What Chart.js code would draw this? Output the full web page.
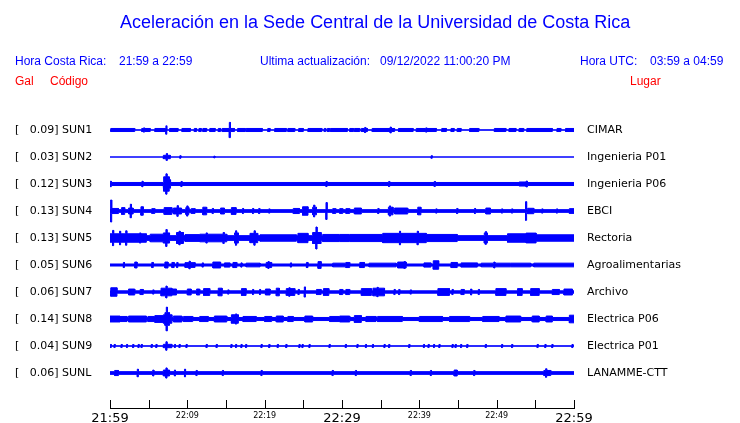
<!DOCTYPE html>
<html>
<head>
<meta charset="utf-8">
<script src="https://cdn.jsdelivr.net/npm/chart.js@4.4.1/dist/chart.umd.min.js"></script>
<style>
  body { margin: 0; background: #fff; }
  #wrap { position: relative; width: 740px; height: 423px; font-family: 'Liberation Sans', Arial, sans-serif; }
  #wrap canvas { position: absolute; left: 0; top: 0; }
  .t { position: absolute; white-space: pre; font-size: 12px; line-height: 14px; color: #0000ff; }
  .r { color: #ff0000; }
  #title { position: absolute; left: 120px; top: 12px; font-size: 18px; line-height: 20px; color: #0000ff; white-space: pre; }
</style>
</head>
<body>
<div id="wrap">
  <canvas id="sismo" width="740" height="423"></canvas>
  <div id="title">Aceleración en la Sede Central de la Universidad de Costa Rica</div>
  <div class="t" style="left:15px;top:54px">Hora Costa Rica:</div>
  <div class="t" style="left:119px;top:54px">21:59 a 22:59</div>
  <div class="t" style="left:260px;top:54px">Ultima actualización:</div>
  <div class="t" style="left:380px;top:54px">09/12/2022 11:00:20 PM</div>
  <div class="t" style="left:580px;top:54px">Hora UTC:</div>
  <div class="t" style="left:650px;top:54px">03:59 a 04:59</div>
  <div class="t r" style="left:15px;top:74px">Gal</div>
  <div class="t r" style="left:50px;top:74px">Código</div>
  <div class="t r" style="left:630px;top:74px">Lugar</div>
</div>
<script>
// estaciones y valores maximos (gal)
const codes = ['SUN1', 'SUN2', 'SUN3', 'SUN4', 'SUN5', 'SUN6', 'SUN7', 'SUN8', 'SUN9', 'SUNL'];
const places = ['CIMAR', 'Ingenieria P01', 'Ingenieria P06', 'EBCI', 'Rectoria', 'Agroalimentarias', 'Archivo', 'Electrica P06', 'Electrica P01', 'LANAMME-CTT'];
const peaks = [0.09, 0.03, 0.12, 0.13, 0.13, 0.05, 0.06, 0.14, 0.04, 0.06];
const timeLabels = ['21:59', '22:09', '22:19', '22:29', '22:39', '22:49', '22:59'];

// amplitud de fondo de cada traza (gal)
const baseAmp = [0.002, 0.0, 0.018, 0.016, 0.028, 0.012, 0.014, 0.018, 0.002, 0.016];

// rafagas: [inicio, fin, amplitud] o picos [minuto, amplitud]  (minutos desde 21:59)
const sun1 = [[0.1,3.2,0.018],[4.1,5.2,0.018],[5.8,7.3,0.018],[7.7,8.8,0.018],[9.3,10.4,0.018],[10.9,11.2,0.018],
  [11.5,11.8,0.018],[12.0,12.5,0.018],[12.9,13.6,0.018],[14.0,14.3,0.018],[14.5,16.1,0.018],[16.5,17.5,0.018],
  [17.6,19.7,0.018],[20.4,20.7,0.018],[21.3,22.8,0.018],[23.0,23.9,0.018],[24.4,25.0,0.018],[25.6,27.4,0.018],
  [27.7,27.9,0.018],[28.1,28.4,0.018],[28.5,30.7,0.018],[31.0,31.5,0.018],[31.6,32.3,0.018],[32.5,33.3,0.018],
  [33.9,36.8,0.018],[37.3,39.2,0.018],[39.6,42.2,0.018],[42.9,43.5,0.018],[44.1,44.5,0.018],[44.9,45.4,0.018],
  [46.5,47.7,0.018],[49.7,51.2,0.018],[51.6,52.5,0.018],[52.9,53.5,0.018],[53.9,57.2,0.018],[57.8,58.3,0.018],
  [58.9,60,0.018],[4.4,0.025],[7.3,0.05],[15.5,0.09],[33.0,0.03],[36.3,0.035],[40.9,0.025]];
const sun2 = [[6.9,7.8,0.02],[7.35,0.04],[9.1,0.015],[13.5,0.01],[41.6,0.015]];
const sun3 = [[0.1,0.032],[4.2,0.032],[6.88,7.83,0.05],[6.97,7.66,0.085],[7.3,0.12],[9.25,0.03],[28.0,0.03],
  [36.1,0.03],[42.0,0.03],[52.9,53.8,0.024],[53.9,0.035]];
const sun4 = [[0.15,0.13],[0,1.1,0.03],[1.5,1.9,0.04],[2.4,3.0,0.035],[2.7,0.08],[4.0,4.3,0.05],[5.4,5.8,0.028],
  [7.0,8.0,0.04],[8.2,9.25,0.035],[8.75,0.063],[9.8,10.2,0.04],[10.0,0.06],[10.5,11.0,0.028],[12.0,12.5,0.045],
  [13.3,0.03],[14.3,14.8,0.035],[15.7,16.3,0.04],[17.2,0.03],[18.5,0.03],[19.3,0.03],[20.6,0.025],[23.7,24.5,0.03],
  [24.9,25.6,0.05],[26.2,26.7,0.045],[26.4,0.07],[28.0,0.10],[28.8,29.2,0.028],[29.7,30.1,0.028],[30.5,31.0,0.028],
  [31.6,32.5,0.035],[34.7,0.03],[36.0,36.6,0.045],[36.2,0.06],[36.8,38.5,0.035],[39.8,40.2,0.045],[42.2,0.025],
  [44.9,0.03],[47.2,0.03],[48.6,49.2,0.035],[50.7,0.025],[52.0,0.025],[53.8,0.11],[54.0,54.8,0.032],[55.9,0.025],
  [57.8,0.025],[59.4,60,0.028]];
const sun5 = [[0,4.7,0.05],[0.4,0.09],[1.3,0.08],[2.1,0.085],[3.9,0.06],[5.2,6.9,0.045],[6.9,7.7,0.06],[7.3,0.1],
  [8.6,9.5,0.065],[9.0,0.08],[9.7,11.6,0.04],[11.6,15.1,0.045],[12.5,0.06],[14.7,0.065],[16.1,16.6,0.06],[16.3,0.085],
  [18.1,19.1,0.055],[18.7,0.085],[19.4,24.1,0.038],[24.3,25.6,0.055],[26.2,27.3,0.065],[26.7,0.13],[27.5,31,0.042],
  [29.7,35.2,0.042],[35.3,40.9,0.055],[37.5,0.08],[39.8,0.08],[40.9,44.9,0.042],[48.4,48.8,0.06],[48.6,0.075],
  [51.4,53.8,0.05],[53.8,55.1,0.058],[55.1,60,0.038]];
const sun6 = [[1.8,0.03],[3.2,3.5,0.035],[5.4,5.6,0.03],[7.1,7.5,0.035],[8.0,8.3,0.03],[8.7,0.03],[9.7,11.0,0.028],
  [10.3,0.045],[12.0,0.025],[13.3,14.3,0.035],[14.8,15.5,0.025],[15.9,16.4,0.03],[17.0,0.025],[17.6,19.4,0.022],
  [20.2,20.9,0.03],[20.5,0.04],[23.4,0.025],[25.4,25.6,0.03],[26.9,27.3,0.04],[28.8,31,0.022],[30.5,31,0.03],
  [32.3,32.9,0.03],[33.5,37.0,0.022],[37.2,38.3,0.035],[38.1,0.04],[40.6,41.5,0.025],[41.8,42.5,0.05],
  [44.1,44.9,0.03],[45.4,47.5,0.025],[48.0,51.8,0.022],[49.7,0.035],[51.8,54.4,0.022],[54.8,60,0.022]];
const sun7 = [[0.1,0.9,0.05],[2.4,3.2,0.035],[3.9,4.3,0.03],[5.6,0.025],[6.6,8.0,0.045],[7.3,0.07],[8.0,8.6,0.035],
  [10.0,10.5,0.035],[11.2,11.6,0.035],[12.1,12.9,0.04],[14.0,14.5,0.045],[15.3,0.025],[17.0,17.6,0.04],[18.5,0.03],
  [19.4,0.03],[20.1,20.7,0.035],[21.5,21.9,0.045],[22.8,23.9,0.04],[23.2,0.05],[24.4,0.03],[25.2,0.06],
  [26.7,27.3,0.03],[27.6,28.3,0.04],[29.7,30.1,0.03],[30.5,31,0.03],[32.5,33.8,0.04],[34.0,35.5,0.045],[34.6,0.055],
  [36.8,0.03],[37.4,0.03],[38.9,0.025],[42.4,43.9,0.04],[44.3,0.03],[45.4,45.8,0.03],[46.7,0.035],[47.7,0.03],
  [49.9,51.2,0.04],[52.7,53.3,0.04],[54.4,55.5,0.04],[57.2,58.1,0.03],[58.7,59.8,0.035]];
const sun8 = [[0,1.3,0.035],[1.3,2.2,0.03],[2.4,4.7,0.035],[4.9,5.8,0.03],[5.8,6.9,0.04],[6.9,8.0,0.05],
  [7.1,7.7,0.075],[7.35,0.14],[8.2,9.3,0.035],[9.5,10.7,0.03],[11.6,12.7,0.03],[13.5,15.1,0.035],[15.7,16.6,0.05],
  [16.3,0.06],[17.2,18.9,0.03],[20.0,20.9,0.03],[21.5,22.4,0.035],[23.0,23.7,0.03],[25.2,26.2,0.035],[28.4,31,0.03],
  [29.7,31,0.035],[31.6,32.5,0.04],[33.1,34.4,0.03],[34.6,37.8,0.03],[40,43,0.03],[43.9,46.5,0.03],[48.2,50.3,0.03],
  [51.2,53.1,0.035],[54.6,55.5,0.035],[56.4,57.2,0.035],[59.4,60,0.045]];
const sun9 = [[0.1,0.018],[0.6,0.018],[1.5,0.018],[2.2,0.018],[3.0,0.018],[3.7,0.018],[4.1,0.018],[5.4,0.018],
  [6.0,0.018],[6.9,8.0,0.02],[7.3,0.05],[8.4,0.018],[9.0,0.018],[9.9,0.018],[12.5,0.018],[13.8,0.018],[15.7,0.018],
  [16.3,0.018],[17.0,0.018],[17.6,0.018],[19.6,0.018],[20.6,0.018],[21.7,0.018],[22.8,0.018],[24.5,0.018],
  [24.9,0.018],[25.8,0.018],[28.4,0.018],[30.5,0.018],[32.0,0.018],[33.1,0.018],[34.0,0.018],[35.5,0.018],
  [36.1,0.018],[38.7,0.018],[40.6,0.018],[41.2,0.018],[41.9,0.018],[42.6,0.018],[44.3,0.018],[44.7,0.018],
  [45.4,0.018],[46.2,0.018],[48.6,0.018],[50.7,0.018],[52.0,0.018],[55.3,0.018],[56.3,0.018],[57.2,0.018],[59.8,0.018]];
const sunl = [[0.6,1.1,0.03],[3.6,0.045],[5.6,0.035],[6.9,7.7,0.035],[7.3,0.06],[8.4,0.035],[9.7,0.045],[11.2,0.03],
  [14.6,0.03],[19.6,0.03],[28.8,0.03],[31.8,0.03],[38.9,0.03],[41.5,0.03],[44.5,44.9,0.035],[47.1,0.03],
  [56.1,57.0,0.03],[56.4,0.05]];
const bursts = [sun1, sun2, sun3, sun4, sun5, sun6, sun7, sun8, sun9, sunl];

const GAP = 0.3187;      // separacion entre trazas, en gal
const SPIKE = 0.07;      // medio ancho de un pico, en minutos
const BLUE = '#0000ff';

// envolvente de una traza: puntos {x, y} alrededor de su linea base
function envelope(base, events, offset, sign) {
  const ev = events.map(e => e.length === 2 ? [e[0] - SPIKE, e[0] + SPIKE, e[1]] : e);
  const cuts = [0, 60];
  ev.forEach(e => cuts.push(Math.max(0, e[0]), Math.min(60, e[1])));
  const xs = [...new Set(cuts)].sort((a, b) => a - b);
  const pts = [];
  for (let i = 0; i < xs.length - 1; i++) {
    const mid = (xs[i] + xs[i + 1]) / 2;
    let a = base;
    ev.forEach(e => { if (mid >= e[0] && mid <= e[1]) a = Math.max(a, e[2]); });
    pts.push({ x: xs[i], y: offset + sign * a }, { x: xs[i + 1], y: offset + sign * a });
  }
  return pts;
}

const datasets = [];
codes.forEach((c, i) => {
  const off = (i + 1) * GAP;
  datasets.push({ label: c, data: envelope(baseAmp[i], bursts[i], off, 1), fill: false });
  datasets.push({ label: c + ' inf', data: envelope(baseAmp[i], bursts[i], off, -1), fill: '-1' });
});
datasets.forEach(d => {
  d.borderColor = BLUE;
  d.backgroundColor = BLUE;
  d.borderWidth = 1;
  d.pointRadius = 0;
  d.tension = 0;
});

const leftLabels = codes.map((c, i) => '[   ' + peaks[i].toFixed(2) + '] ' + c);
const traceTicks = s => { s.ticks = codes.map((c, i) => ({ value: (i + 1) * GAP })); };

const tickMarks = {
  id: 'tickMarks',
  afterDraw(chart) {
    const x = chart.scales.x;
    const b = chart.chartArea.bottom;
    const ctx = chart.ctx;
    ctx.save();
    ctx.strokeStyle = '#000';
    ctx.lineWidth = 1;
    ctx.beginPath();
    x.ticks.forEach(t => {
      const px = Math.round(x.getPixelForValue(t.value)) + 0.5;
      ctx.moveTo(px, b - 8);
      ctx.lineTo(px, b);
    });
    ctx.stroke();
    ctx.restore();
  }
};

new Chart(document.getElementById('sismo'), {
  type: 'line',
  data: { datasets },
  plugins: [tickMarks],
  options: {
    responsive: false,
    animation: false,
    layout: { padding: { left: 15, top: 103, right: 0, bottom: 0 } },
    plugins: { legend: { display: false }, tooltip: { enabled: false } },
    scales: {
      x: {
        type: 'linear', min: 0, max: 60,
        grid: { display: false, drawTicks: false },
        border: { display: true, color: '#000', width: 1 },
        afterFit: s => { s.height = 15; },
        ticks: {
          stepSize: 5, autoSkip: false, maxRotation: 0, padding: 3, color: '#000',
          font: ctx => ({ family: 'DejaVu Sans', size: ctx.tick && ctx.tick.value % 30 === 0 ? 13 : 8 }),
          callback: v => v % 10 === 0 ? timeLabels[v / 10] : ''
        }
      },
      y: {
        type: 'linear', position: 'left', min: 0, max: 3.6, reverse: true,
        grid: { display: false, drawTicks: false },
        border: { display: false },
        afterBuildTicks: traceTicks,
        afterFit: s => { s.width = 95; },
        ticks: { crossAlign: 'far', padding: 2, color: '#000', font: { family: 'DejaVu Sans', size: 11 },
          callback: (v, i) => leftLabels[i] }
      },
      y2: {
        type: 'linear', position: 'right', display: true, min: 0, max: 3.6, reverse: true,
        grid: { display: false, drawTicks: true, tickLength: 11 },
        border: { display: false },
        afterBuildTicks: traceTicks,
        afterFit: s => { s.width = 166; },
        ticks: { padding: 2, color: '#000', font: { family: 'DejaVu Sans', size: 11 },
          callback: (v, i) => places[i] }
      }
    }
  }
});
</script>
</body>
</html>
